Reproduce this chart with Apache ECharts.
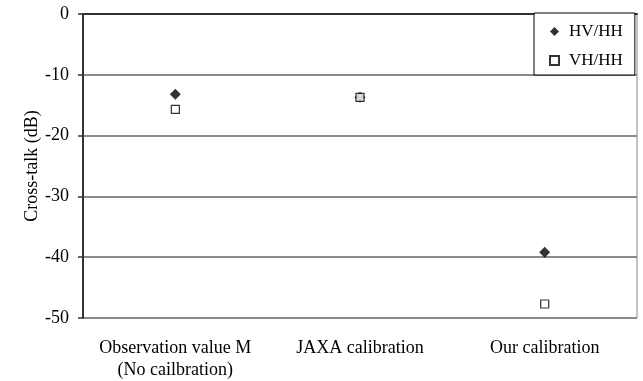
<!DOCTYPE html>
<html>
<head>
<meta charset="utf-8">
<script src="https://cdn.jsdelivr.net/npm/echarts@6/dist/echarts.min.js"></script>
<style>html,body{margin:0;padding:0;background:#fff}#c{width:643px;height:381px}</style>
</head>
<body>
<div id="c"></div>
<script>
var categories = ['Observation value M\n(No cailbration)', 'JAXA calibration', 'Our calibration'];
var hvhh = [-13.2, -13.7, -39.2];
var vhhh = [-15.7, -13.7, -47.7];
var yTicks = [0, -10, -20, -30, -40, -50];

var FONT = '"Liberation Serif", "Times New Roman", serif';
var chart = echarts.init(document.getElementById('c'));
chart.setOption({
  animation: false,
  backgroundColor: '#fff',
  grid: {left: 83, top: 14, right: 6, bottom: 62, show: true, borderColor: '#8a8a8a', borderWidth: 1, backgroundColor: 'transparent'},
  legend: {
    orient: 'vertical', left: 534, top: 13,
    backgroundColor: '#fff', borderColor: '#000', borderWidth: 1,
    padding: [10, 12, 6, 15], itemGap: 12, itemWidth: 9, itemHeight: 9,
    textStyle: {fontFamily: FONT, fontSize: 17, color: '#000', padding: [0, 0, 0, 5]},
    data: [{name: 'HV/HH'}, {name: 'VH/HH'}]
  },
  xAxis: {
    type: 'category', data: categories, boundaryGap: true,
    axisLine: {lineStyle: {color: '#333', width: 2}},
    axisTick: {show: false},
    axisLabel: {interval: 0, hideOverlap: false, fontFamily: FONT, fontSize: 18, color: '#000', margin: 19, lineHeight: 22}
  },
  yAxis: {
    type: 'value', min: -50, max: 0, interval: 10,
    name: 'Cross-talk (dB)', nameLocation: 'middle', nameGap: 42, nameRotate: 90, nameMoveOverlap: false,
    nameTextStyle: {fontFamily: FONT, fontSize: 18, color: '#000'},
    axisLine: {show: true, lineStyle: {color: '#333', width: 2}},
    axisTick: {show: true, inside: false, length: 5, lineStyle: {color: '#333', width: 1.5}},
    axisLabel: {fontFamily: FONT, fontSize: 18, color: '#000', margin: 14,
      formatter: function (v) { return yTicks.indexOf(v) >= 0 ? String(v) : ''; }},
    splitLine: {show: true, lineStyle: {color: '#8a8a8a', width: 2}}
  },
  series: [
    {name: 'HV/HH', type: 'scatter', data: hvhh, symbol: 'diamond', symbolSize: 11,
      itemStyle: {color: '#000', borderColor: '#000', borderWidth: 0}, z: 3},
    {name: 'VH/HH', type: 'scatter', data: vhhh, symbol: 'rect', symbolSize: 8,
      itemStyle: {color: '#fff', borderColor: '#000', borderWidth: 1.2}, z: 4}
  ]
});
</script>
</body>
</html>
